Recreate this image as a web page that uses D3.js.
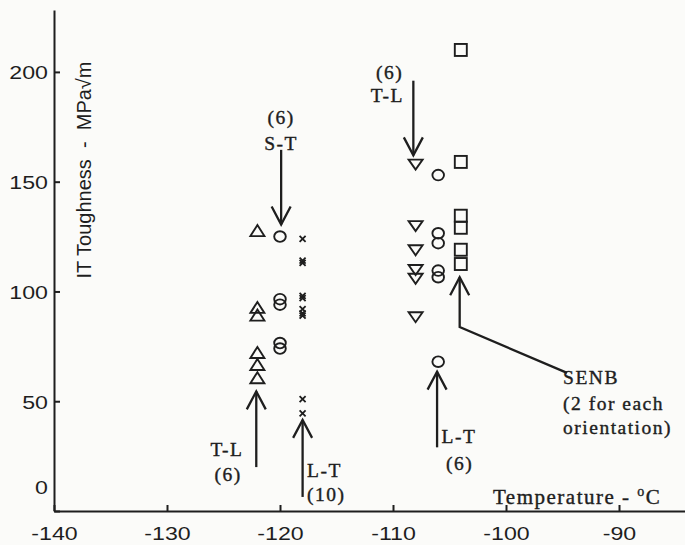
<!DOCTYPE html>
<html>
<head>
<meta charset="utf-8">
<script src="https://cdn.jsdelivr.net/npm/d3@7"></script>
<style>
  body { margin: 0; background: #fbfbf9; }
  svg { display: block; }
</style>
</head>
<body>
<div id="chart"></div>
<script>
////////////////////////////////////////////////////////////////////////
// Data (temperature in deg C, toughness in MPa*sqrt(m))

let xTicks = [-140, -130, -120, -110, -100, -90];
let yTicks = [0, 50, 100, 150, 200];

// T-L, -122 C  (triangles up)
let tlLowTemp = [-122, -122, -122, -122, -122, -122];
let tlLowVal  = [127.5, 92.5, 89, 72, 66.5, 60.5];

// S-T, -120 C  (circles)
let stTemp = [-120, -120, -120, -120, -120];
let stVal  = [125, 96.5, 94, 76.5, 74];

// L-T (10), -118 C  (crosses)
let ltLowTemp = [-118, -118, -118, -118, -118, -118, -118, -118, -118, -118];
let ltLowVal  = [124, 114, 113, 98, 97, 92, 90, 89, 51, 44.5];

// T-L (6), -108 C  (triangles down)
let tlHighTemp = [-108, -108, -108, -108, -108, -108];
let tlHighVal  = [158, 130, 119, 110, 106, 88.5];

// L-T (6), -106 C  (circles)
let ltHighTemp = [-106, -106, -106, -106, -106, -106];
let ltHighVal  = [153, 126.5, 122, 109.5, 106.5, 68];

// SENB, -104 C  (squares)
let senbTemp = [-104, -104, -104, -104, -104, -104];
let senbVal  = [210, 159, 134.5, 129, 119, 112.5];

////////////////////////////////////////////////////////////////////////
// Global variables, preliminaries

let width = 685, height = 545;
let ink = "#1e1e1e";
let serif = "'Liberation Serif', 'Times New Roman', serif";
let sans = "'Liberation Sans', Arial, sans-serif";

let xScale = d3.scaleLinear().domain([-140, -84.16]).range([54, 685]);
let yScale = d3.scaleLinear().domain([0, 228.2]).range([511, 10]);

let svg = d3.select("#chart")
  .append("svg")
  .attr("width", width)
  .attr("height", height);

svg.append("rect").attr("width", width).attr("height", height).attr("fill", "#fbfbf9");

function zip(xs, ys) {
  return xs.map(function(x, i) { return { t: x, k: ys[i] }; });
}

////////////////////////////////////////////////////////////////////////
// Axes

let xAxis = svg.append("g")
  .attr("transform", "translate(0," + yScale(0) + ")")
  .call(d3.axisBottom(xScale).tickValues(xTicks).tickSize(-6).tickSizeOuter(0).tickPadding(16)
    .tickFormat(function(d) { return String(d); }));

let yAxis = svg.append("g")
  .attr("transform", "translate(" + xScale(-140) + ",0)")
  .call(d3.axisLeft(yScale).tickValues(yTicks).tickSize(-6).tickSizeOuter(0).tickPadding(5)
    .tickFormat(function(d) { return String(d); }));

[xAxis, yAxis].forEach(function(ax) {
  ax.selectAll("path, line").attr("stroke", ink).attr("stroke-width", 2);
  ax.selectAll("text")
    .attr("fill", ink)
    .style("font-family", sans)
    .style("font-size", "19px");
});

// the digits of the scan are wide
xAxis.selectAll("text").attr("transform", "scale(1.22,1)");
yAxis.selectAll("text").attr("transform", "scale(1.22,1)").attr("dy", "0.36em");
// "0" sits above the corner
yAxis.selectAll(".tick").filter(function(d) { return d === 0; })
  .select("text").attr("y", -24).attr("x", -5);

svg.append("text")
  .attr("transform", "translate(91,170) rotate(-90)")
  .attr("text-anchor", "middle")
  .attr("fill", ink)
  .style("font-family", sans)
  .style("font-size", "20px")
  .style("white-space", "pre")
  .text("IT Toughness  -  MPa\u221Am");

let xLab = svg.append("text")
  .attr("x", 493).attr("y", 504)
  .attr("fill", ink)
  .attr("stroke", ink).attr("stroke-width", 0.4)
  .style("font-family", serif)
  .style("font-size", "21px")
  .style("letter-spacing", "1.5px")
  .style("white-space", "pre")
  .text("Temperature - ");
xLab.append("tspan").attr("dy", -8).style("font-size", "14px").text("o");
xLab.append("tspan").attr("dy", 8).text("C");

////////////////////////////////////////////////////////////////////////
// Markers

let marks = svg.append("g")
  .attr("fill", "none")
  .attr("stroke", ink)
  .attr("stroke-width", 1.9);

function place(d) {
  return "translate(" + xScale(d.t) + "," + yScale(d.k) + ")";
}

marks.selectAll(".tri-up").data(zip(tlLowTemp, tlLowVal)).enter()
  .append("path").attr("class", "tri-up")
  .attr("transform", place)
  .attr("d", "M0,-6 L7,5 L-7,5 Z");

marks.selectAll(".tri-down").data(zip(tlHighTemp, tlHighVal)).enter()
  .append("path").attr("class", "tri-down")
  .attr("transform", place)
  .attr("d", "M-7,-4.5 L7,-4.5 L0,5.5 Z");

marks.selectAll(".circ").data(zip(stTemp, stVal).concat(zip(ltHighTemp, ltHighVal))).enter()
  .append("ellipse").attr("class", "circ")
  .attr("transform", place)
  .attr("rx", 5.8).attr("ry", 5.3);

marks.selectAll(".sq").data(zip(senbTemp, senbVal)).enter()
  .append("rect").attr("class", "sq")
  .attr("transform", place)
  .attr("x", -6).attr("y", -6).attr("width", 12).attr("height", 12);

marks.selectAll(".cross").data(zip(ltLowTemp, ltLowVal)).enter()
  .append("path").attr("class", "cross")
  .attr("transform", place)
  .attr("stroke-width", 1.8)
  .attr("d", "M-3,-3 L3,3 M-3,3 L3,-3");

////////////////////////////////////////////////////////////////////////
// Annotation arrows and labels (data coordinates)

let arrows = [
  { from: [-119.9, 164.5], to: [-119.9, 130.5] },
  { from: [-108.2, 196],   to: [-108.2, 162] },
  { from: [-122.1, 20],    to: [-122.1, 54.5] },
  { from: [-118.0, 6.4],   to: [-118.0, 41.5] },
  { from: [-106.1, 29],    to: [-106.1, 63.5] },
  { from: [-94.6, 62.9],   to: [-104.1, 106.5], via: [-104.1, 83.8] }
];

let labels = [
  { t: -119.9, k: 179.5, text: "(6)", anchor: "middle" },
  { t: -119.9, k: 167.5, text: "S-T", anchor: "middle" },
  { t: -110.3, k: 200,  text: "(6)",  anchor: "middle" },
  { t: -110.5, k: 189.5, text: "T-L", anchor: "middle" },
  { t: -124.7, k: 28.2, text: "T-L",  anchor: "middle" },
  { t: -124.6, k: 17.0, text: "(6)",  anchor: "middle" },
  { t: -117.6, k: 18.7, text: "L-T",  anchor: "start" },
  { t: -117.6, k: 7.7,  text: "(10)", anchor: "start" },
  { t: -105.7, k: 34.0, text: "L-T",  anchor: "start" },
  { t: -104.1, k: 21.6, text: "(6)",  anchor: "middle" },
  { t: -94.95, k: 61.0, text: "SENB", anchor: "start" },
  { t: -94.95, k: 49.2, text: "(2 for each", anchor: "start" },
  { t: -94.95, k: 38.3, text: "orientation)", anchor: "start" }
];

let notes = svg.append("g")
  .attr("fill", "none")
  .attr("stroke", ink)
  .attr("stroke-width", 2.3);

notes.selectAll(".shaft").data(arrows).enter()
  .append("path").attr("class", "shaft")
  .attr("d", function(d) {
    let pts = [d.from];
    if (d.via) pts.push(d.via);
    pts.push(d.to);
    return d3.line().x(function(p) { return xScale(p[0]); }).y(function(p) { return yScale(p[1]); })(pts);
  });

// open V heads, pointing from the previous point to the tip
notes.selectAll(".head").data(arrows).enter()
  .append("path").attr("class", "head")
  .attr("d", function(d) {
    let prev = d.via ? d.via : d.from;
    let tx = xScale(d.to[0]), ty = yScale(d.to[1]);
    let px = xScale(prev[0]), py = yScale(prev[1]);
    let len = Math.sqrt((tx - px) * (tx - px) + (ty - py) * (ty - py));
    let ux = (px - tx) / len, uy = (py - ty) / len;
    let back = 18, half = 9.5;
    return "M" + (tx + ux * back - uy * half) + "," + (ty + uy * back + ux * half)
      + "L" + tx + "," + ty
      + "L" + (tx + ux * back + uy * half) + "," + (ty + uy * back - ux * half);
  });

svg.append("g").selectAll("text").data(labels).enter()
  .append("text")
  .attr("x", function(d) { return xScale(d.t); })
  .attr("y", function(d) { return yScale(d.k); })
  .attr("dy", "0.35em")
  .attr("text-anchor", function(d) { return d.anchor; })
  .attr("fill", ink)
  .attr("stroke", ink).attr("stroke-width", 0.4)
  .style("font-family", serif)
  .style("font-size", "19.5px")
  .style("letter-spacing", "1.5px")
  .text(function(d) { return d.text; });
</script>
</body>
</html>
